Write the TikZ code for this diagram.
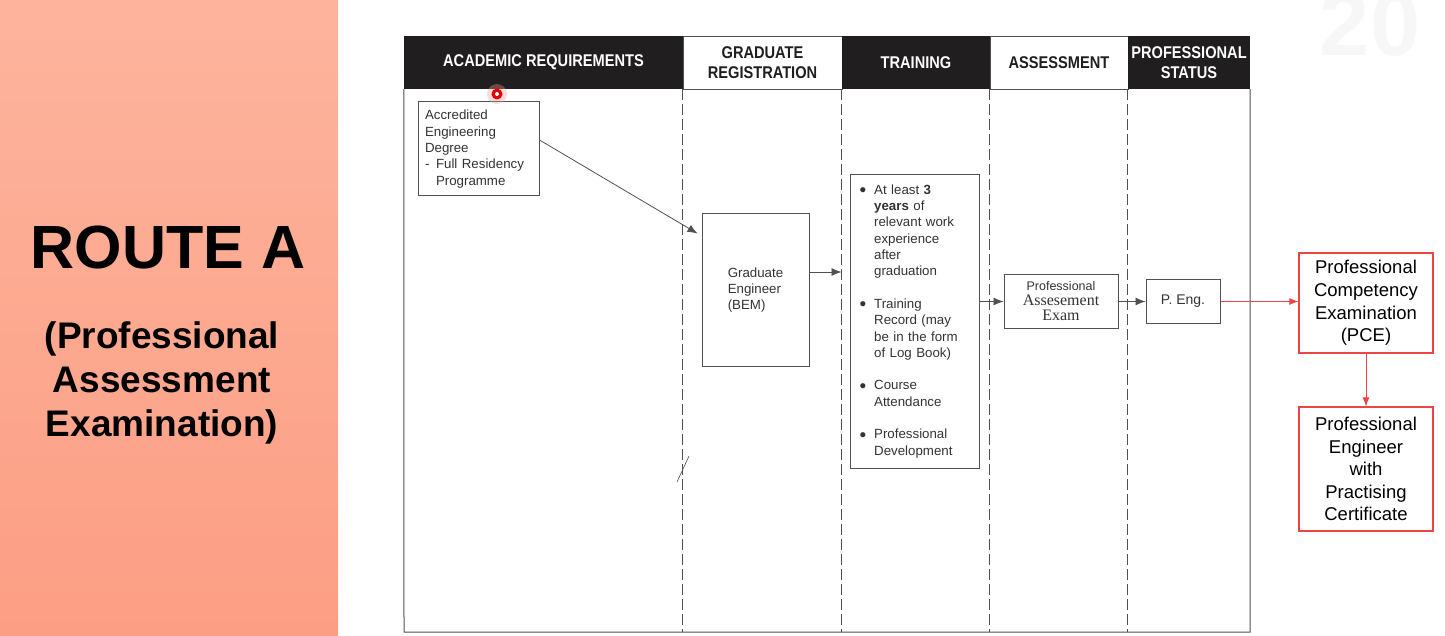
\documentclass[tikz,border=0pt]{standalone}
\usepackage{fontspec}
\setmainfont{Liberation Sans}
\newfontfamily\examserif{Liberation Serif}
\newfontfamily\headfont[FakeStretch=0.86]{Liberation Sans}
\usetikzlibrary{arrows.meta}

\definecolor{panellight}{HTML}{FDB49D}
\definecolor{paneldark}{HTML}{FC9E84}
\definecolor{barblack}{HTML}{201E1F}
\definecolor{boxgray}{HTML}{505050}
\definecolor{textgray}{HTML}{333333}
\definecolor{pcered}{HTML}{EE4444}

\newcommand{\bodysize}{\fontsize{13.3}{16.3}\selectfont}
\newcommand{\headsize}{\headfont\fontsize{17}{20}\selectfont\bfseries}
\newcommand{\redsize}{\fontsize{18.5}{22.6}\selectfont}
\newcommand{\dotmark}{\raisebox{-2.2pt}{\fontsize{19}{16}\selectfont\textbullet}}

\begin{document}
\begin{tikzpicture}[x = 1pt, y = -1pt,
	box/.style = {draw = boxgray, line width = 1pt, text = textgray, inner sep = 0pt, font = \bodysize},
	redbox/.style = {draw = pcered, line width = 1.2pt, text = black, inner sep = 0pt, align = center, font = \redsize, minimum width = 134pt},
	headdark/.style = {fill = barblack, text = white, inner sep = 0pt, minimum height = 53pt, align = center, font = \headsize},
	headlight/.style = {draw = boxgray, fill = white, text = barblack, inner sep = 0pt, minimum height = 53pt, align = center, font = \headsize},
	flow/.style = {draw = boxgray, line width = 0.8pt, -{Latex[length = 10pt, width = 8pt]}},
	redflow/.style = {draw = pcered, line width = 0.9pt, -{Latex[length = 9pt, width = 7pt]}},
	lane/.style = {draw = boxgray, line width = 0.9pt, dash pattern = on 11pt off 4pt}]
	\useasboundingbox (0,0) rectangle (1445,636);
	\shade[top color = panellight, bottom color = paneldark] (0,0) rectangle (338,636);
	\node[font = \fontsize{90}{90}\selectfont\bfseries, text = gray!6, anchor = base] (slideno) at (1370,56) {20};

	\node[font = \fontsize{61}{61}\selectfont\bfseries] (route) at (168,247.5) {ROUTE A};
	\node[font = \fontsize{37}{44}\selectfont\bfseries, align = center] (routesub) at (162,383) {(Professional\\Assessment\\Examination)};

	\node[headdark, minimum width = 279pt] (hacad) at (543.5,62.5) {ACADEMIC REQUIREMENTS};
	\node[headlight, minimum width = 159pt] (hgrad) at (762.5,62.5) {GRADUATE\\REGISTRATION};
	\node[headdark, minimum width = 148pt] (htrain) at (916,62.5) {TRAINING};
	\node[headlight, minimum width = 138pt] (hassess) at (1059,62.5) {ASSESSMENT};
	\node[headdark, minimum width = 122pt] (hstatus) at (1189,62.5) {PROFESSIONAL\\STATUS};

	\coordinate (fbl) at (404,632);
	\coordinate (fbr) at (1250,632);
	\draw[boxgray, line width = 1pt] (hacad.south west) -- (fbl) -- (fbr) -- (hstatus.south east);
	\draw[lane] (hgrad.south west) -- (hgrad.south west |- fbl);
	\draw[lane] (htrain.south west) -- (htrain.south west |- fbl);
	\draw[lane] (hassess.south west) -- (hassess.south west |- fbl);
	\draw[lane] (hstatus.south west) -- (hstatus.south west |- fbl);
	\draw[boxgray, line width = 0.6pt] (677,482) -- (689,456);

	\node[box, minimum width = 121pt, minimum height = 94pt, text width = 107pt, align = left] (acad) at (478.5,149)
		{Accredited\\Engineering\\Degree\\\makebox[11pt][l]{-}Full Residency\\\hspace*{11pt}Programme};
	\node[box, minimum width = 107pt, minimum height = 152pt, align = left] (bem) at (755.5,290) {Graduate\\Engineer\\(BEM)};
	\node[box, minimum width = 129pt, minimum height = 293pt, text width = 110pt, align = left] (train) at (914.5,321.5)
		{\begin{tabular}{@{}l@{\hspace{8pt}}l@{}}
			\dotmark & At least \textbf{3}\\
			& \textbf{years} of\\
			& relevant work\\
			& experience\\
			& after\\
			& graduation\\
			& \\
			\dotmark & Training\\
			& Record (may\\
			& be in the form\\
			& of Log Book)\\
			& \\
			\dotmark & Course\\
			& Attendance\\
			& \\
			\dotmark & Professional\\
			& Development
		\end{tabular}};
	\node[box, minimum width = 114pt, minimum height = 53pt, align = center, font = \examserif\fontsize{16}{15}\selectfont] (pae) at (1061,301.5)
		{{\rmfamily\fontsize{12.5}{15}\selectfont Professional}\\Assesement\\Exam};
	\node[box, minimum width = 74pt, minimum height = 43pt, font = \fontsize{14}{16}\selectfont] (peng) at (1183,301.5) {P. Eng.};
	\node[redbox, minimum height = 100pt] (pce) at (1366,303) {Professional\\Competency\\Examination\\(PCE)};
	\node[redbox, minimum height = 124pt] (pepc) at (1366,469) {Professional\\Engineer\\with\\Practising\\Certificate};

	\draw[flow] ([yshift = 9pt]acad.east) -- ([xshift = -4pt, yshift = -20pt]bem.north west);
	\coordinate (bemout) at ([yshift = 18pt]bem.east);
	\draw[flow, shorten > = 8pt] (bemout) -- (bemout -| train.west);
	\draw[flow] (pae.west -| train.east) -- (pae.west);
	\draw[flow] (pae.east) -- (peng.west);
	\draw[redflow] (peng.east) -- (peng.east -| pce.west);
	\draw[redflow] (pce.south) -- (pepc.north);

	\fill[red!40, opacity = 0.35] (497,94) circle (10pt);
	\fill[red!90!black] (497,94) circle (5.5pt);
	\fill[white] (497,94) circle (2pt);
\end{tikzpicture}
\end{document}
